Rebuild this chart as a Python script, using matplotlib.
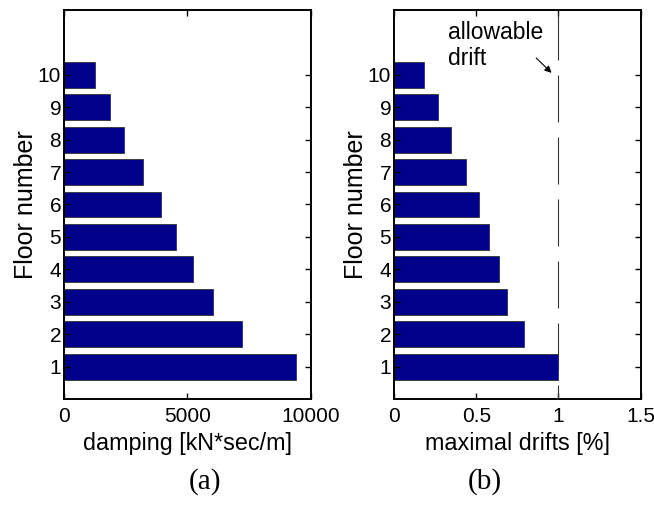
import numpy as np
import matplotlib
matplotlib.use("Agg")
import matplotlib.pyplot as plt

# values
floors = [1, 2, 3, 4, 5, 6, 7, 8, 9, 10]
damping = [9390, 7230, 6030, 5240, 4530, 3930, 3190, 2430, 1880, 1240]
drifts = [1.0, 0.79, 0.69, 0.64, 0.575, 0.52, 0.44, 0.345, 0.265, 0.18]
damping_ticks = [0, 5000, 10000]
drift_ticks = [0, 0.5, 1, 1.5]
allowable = 1.0

plt.rcParams['font.family'] = ['Liberation Sans', 'DejaVu Sans']
plt.rcParams['font.size'] = 15

bar_color = '#00008B'

fig = plt.figure(figsize=(6.54, 5.05), dpi=100)
ax1 = fig.add_axes([0.0979, 0.2099, 0.3772, 0.7703])
ax2 = fig.add_axes([0.6024, 0.2099, 0.3772, 0.7703])


def style_axes(ax):
    ax.set_ylim(0, 12)
    ax.set_yticks(floors)
    ax.set_yticklabels([str(f) for f in floors])
    ax.tick_params(direction='in', length=4, width=1, top=True, right=True, labelsize=15)
    ax.tick_params(axis='y', pad=2)
    ax.tick_params(axis='x', pad=6)
    for s in ax.spines.values():
        s.set_linewidth(1.4)
    ax.set_ylabel('Floor number', fontsize=18, labelpad=0)


# (a) damping
ax1.barh(floors, damping, height=0.8, color=bar_color, edgecolor='#333333', linewidth=0.6)
ax1.set_xlim(0, 10000)
ax1.set_xticks(damping_ticks)
ax1.set_xticklabels([str(t) for t in damping_ticks])
style_axes(ax1)
ax1.set_xlabel('damping [kN*sec/m]', fontsize=16.8, labelpad=4)

# (b) drifts
ax2.barh(floors, drifts, height=0.8, color=bar_color, edgecolor='#333333', linewidth=0.6)
ax2.set_xlim(0, 1.5)
ax2.set_xticks(drift_ticks)
ax2.set_xticklabels(['0', '0.5', '1', '1.5'])
style_axes(ax2)
ax2.set_xlabel('maximal drifts [%]', fontsize=16.8, labelpad=4)
# dashed limit line: 47 px dash, 15 px gap, phase matched to the reference
ax2.plot([allowable, allowable], [12, 0], color='#333333', lw=0.8,
         linestyle=(53.1, (42.3, 13.5)), zorder=3)
ax2.text(0.33, 11.11, 'allowable', ha='left', va='baseline', fontsize=16.5)
ax2.text(0.33, 10.30, 'drift', ha='left', va='baseline', fontsize=16.5)
ax2.annotate('', xy=(0.97, 10.0), xytext=(0.853, 10.58),
             arrowprops=dict(arrowstyle='-|>', color='black', lw=0.8, mutation_scale=10))

# captions
fig.text(205 / 654, 1 - 482 / 505, '(a)', ha='center', va='center',
         family='Liberation Serif', fontsize=21)
fig.text(485 / 654, 1 - 482 / 505, '(b)', ha='center', va='center',
         family='Liberation Serif', fontsize=21)

fig.savefig('out.png', dpi=100)
